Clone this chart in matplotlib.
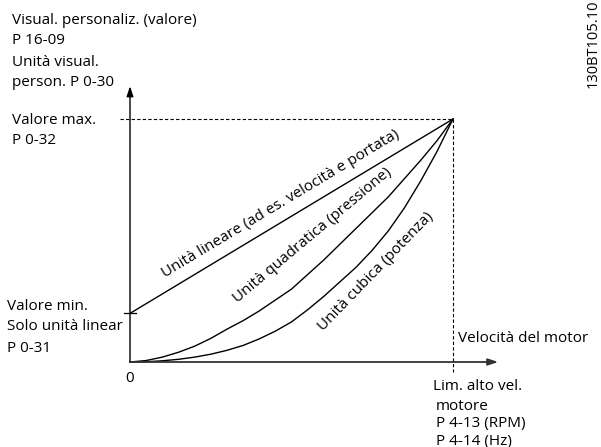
import matplotlib
matplotlib.use("Agg")
import matplotlib.pyplot as plt

plt.rcParams['font.family'] = ['Open Sans', 'DejaVu Sans']

# speed fraction (0 .. top speed limit) and value fractions (0 .. max value)
speed = [0.0, 0.05, 0.1, 0.15, 0.2, 0.25, 0.3, 0.35, 0.4, 0.45, 0.5,
         0.55, 0.6, 0.65, 0.7, 0.75, 0.8, 0.85, 0.9, 0.95, 1.0]
linear_start = 0.2
linear_end = 1.0
quadratic = [0.0, 0.006, 0.02, 0.04, 0.065, 0.097, 0.135, 0.17, 0.21, 0.255, 0.30,
             0.36, 0.42, 0.485, 0.55, 0.615, 0.68, 0.755, 0.83, 0.91, 1.0]
cubic = [0.0, 0.001, 0.005, 0.011, 0.02, 0.032, 0.048, 0.068, 0.095, 0.127, 0.165,
         0.215, 0.27, 0.33, 0.39, 0.46, 0.54, 0.635, 0.745, 0.865, 1.0]

W, H = 601, 447
fig = plt.figure(figsize=(W / 100, H / 100), dpi=100)
ax = fig.add_axes([130 / W, 85 / H, 323 / W, 243 / H])
ax.set_xlim(0, 1)
ax.set_ylim(0, 1)
ax.axis('off')


def px(x, y):
    # pixel position -> figure fraction
    return x / W, 1 - y / H


# axes with arrows
ax.annotate('', xy=(0, 1.135), xytext=(0, 0), annotation_clip=False,
            arrowprops=dict(arrowstyle='-|>,head_length=0.6,head_width=0.2',
                            color='black', lw=1.0,
                            mutation_scale=10, shrinkA=0, shrinkB=0))
ax.annotate('', xy=(1.14, 0), xytext=(0, 0), annotation_clip=False,
            arrowprops=dict(arrowstyle='-|>,head_length=0.6,head_width=0.2',
                            color='#333333', lw=1.3,
                            mutation_scale=10, shrinkA=0, shrinkB=0))

# dashed guides to the max point
ax.plot([-0.03, 1], [1, 1], color='black', lw=0.8, ls=(0, (3, 2)), clip_on=False)
ax.plot([1, 1], [1, -0.04], color='black', lw=0.8, ls=(0, (3, 2)), clip_on=False)

# min tick for linear unit
ax.plot([-0.02, 0.02], [linear_start, linear_start], color='black', lw=0.9, clip_on=False)

# curves
ax.plot([0, 1], [linear_start, linear_end], color='black', lw=1.0, clip_on=False)
ax.plot(speed, quadratic, color='black', lw=1.0, clip_on=False)
ax.plot(speed, cubic, color='black', lw=1.0, clip_on=False)

fs = 11
ax.text(0.468, 0.652, 'Unità lineare (ad es. velocità e portata)', rotation=31,
        ha='center', va='center', fontsize=fs, rotation_mode='anchor')
ax.text(0.566, 0.52, 'Unità quadratica (pressione)', rotation=40,
        ha='center', va='center', fontsize=fs, rotation_mode='anchor')
ax.text(0.762, 0.372, 'Unità cubica (potenza)', rotation=46,
        ha='center', va='center', fontsize=fs, rotation_mode='anchor')

labels = [
    (12, 20, 'Visual. personaliz. (valore)'),
    (12, 40, 'P 16-09'),
    (12, 63, 'Unità visual.'),
    (12, 83, 'person. P 0-30'),
    (12, 120, 'Valore max.'),
    (12, 140, 'P 0-32'),
    (7, 307, 'Valore min.'),
    (7, 326, 'Solo unità linear'),
    (7, 349, 'P 0-31'),
    (458, 338, 'Velocità del motor'),
    (433, 387, 'Lim. alto vel.'),
    (436, 407, 'motore'),
    (436, 424, 'P 4-13 (RPM)'),
    (436, 441, 'P 4-14 (Hz)'),
]
for x, y, s in labels:
    fx, fy = px(x, y)
    fig.text(fx, fy, s, ha='left', va='center', fontsize=fs)

fx, fy = px(130, 378)
fig.text(fx, fy, '0', ha='center', va='center', fontsize=fs)

fx, fy = px(593, 88)
fig.text(fx, fy, '130BT105.10', rotation=90, ha='center', va='bottom', fontsize=10.5)

fig.savefig('out.png', dpi=100)
